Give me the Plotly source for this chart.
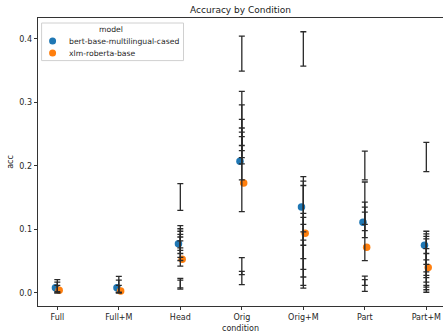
import plotly.graph_objects as go
import numpy as np

categories = ["Full", "Full+M", "Head", "Orig", "Orig+M", "Part", "Part+M"]
bert_acc = [0.008, 0.008, 0.0775, 0.207, 0.135, 0.111, 0.075]
xlmr_acc = [0.004, 0.003, 0.053, 0.173, 0.094, 0.072, 0.040]
model_names = ["bert-base-multilingual-cased", "xlm-roberta-base"]
model_colors = ["#1f77b4", "#ff7f0e"]

# error bar intervals (low, high) per condition
err_full = [(0.0, 0.021), (0.002, 0.017), (0.0, 0.012)]
err_fullm = [(0.0, 0.026), (0.001, 0.020), (0.0, 0.012)]
err_head = [(0.130, 0.172), (0.042, 0.106), (0.051, 0.101), (0.056, 0.097),
            (0.062, 0.092), (0.067, 0.088), (0.071, 0.082), (0.006, 0.023), (0.008, 0.020)]
err_orig = [(0.349, 0.404), (0.128, 0.317), (0.178, 0.296), (0.203, 0.273),
            (0.213, 0.2595), (0.224, 0.253), (0.232, 0.246), (0.013, 0.0555), (0.0287, 0.034)]
err_origm = [(0.357, 0.411), (0.0076, 0.183), (0.0118, 0.176), (0.025, 0.169),
             (0.037, 0.125), (0.054, 0.119), (0.075, 0.108), (0.083, 0.096)]
err_part = [(0.178, 0.223), (0.0507, 0.1745), (0.087, 0.143), (0.098, 0.135),
            (0.108, 0.127), (0.0024, 0.0265), (0.012, 0.021)]
err_partm = [(0.191, 0.237), (0.001, 0.097), (0.009, 0.093), (0.017, 0.089),
             (0.024, 0.085), (0.0276, 0.0696), (0.033, 0.062), (0.045, 0.052), (0.005, 0.012)]
error_intervals = [err_full, err_fullm, err_head, err_orig, err_origm, err_part, err_partm]

FONT = "DejaVu Sans"
FS = 8.0
LFS = 7.7
pos = np.arange(len(categories))
dodge = 0.03

fig = go.Figure()
for name, vals, col, off in zip(model_names, [bert_acc, xlmr_acc], model_colors, [-dodge, dodge]):
    fig.add_trace(go.Scatter(x=pos + off, y=vals, mode="markers", name=name,
                             marker=dict(color=col, size=7.5), showlegend=False))

for i, ints in enumerate(error_intervals):
    lows = np.array([a for a, b in ints])
    highs = np.array([b for a, b in ints])
    mids = (lows + highs) / 2
    half = (highs - lows) / 2
    fig.add_trace(go.Scatter(
        x=[pos[i]] * len(ints), y=mids, mode="markers",
        marker=dict(size=0.1, opacity=0),
        error_y=dict(type="data", array=half, symmetric=True,
                     color="#2a2a2a", thickness=1.3, width=3),
        showlegend=False, hoverinfo="skip"))

# pixel -> paper helpers for the compact matplotlib-style legend
L, R, T, B = 37.7, 443, 17.7, 305.7
def px(x):
    return (x - L) / (R - L)
def py(y):
    return (B - y) / (B - T)

shapes = [dict(type="rect", xref="paper", yref="paper",
               x0=px(41.3), x1=px(183.3), y0=py(60.3), y1=py(22.7),
               line=dict(color="#d0d0d0", width=1), fillcolor="rgba(255,255,255,0.8)",
               layer="above")]
annotations = [dict(text="model", xref="paper", yref="paper", x=px(111), y=py(29),
                    xanchor="center", yanchor="middle", showarrow=False,
                    font=dict(size=LFS, color="#262626"))]
for k, (name, col) in enumerate(zip(model_names, model_colors)):
    yc = 40.7 + 12 * k
    shapes.append(dict(type="circle", xref="paper", yref="paper",
                       xsizemode="pixel", ysizemode="pixel",
                       xanchor=px(52.3), yanchor=py(yc),
                       x0=-3.5, x1=3.5, y0=-3.5, y1=3.5,
                       fillcolor=col, line=dict(width=0), layer="above"))
    annotations.append(dict(text=name, xref="paper", yref="paper", x=px(66.5), y=py(yc),
                            xanchor="left", yanchor="middle", showarrow=False,
                            font=dict(size=LFS, color="#262626")))

fig.update_layout(
    width=443, height=336,
    margin=dict(l=L, r=0, t=T, b=336 - B, autoexpand=False),
    paper_bgcolor="white", plot_bgcolor="white",
    font=dict(family=FONT, size=FS, color="#262626"),
    showlegend=False,
    title=dict(text="Accuracy by Condition", x=0.5, xref="paper",
               y=1 - 10 / 336, yref="container", yanchor="middle", xanchor="center",
               font=dict(size=9.0, color="#1a1a1a")),
    xaxis=dict(range=[-0.314, 6.271], tickvals=list(pos), ticktext=categories,
               showgrid=False, zeroline=False, showline=True, mirror=True,
               linecolor="#333", linewidth=0.8, ticks="outside", ticklen=3.5,
               tickwidth=0.8, tickcolor="#333",
               title=dict(text="condition", standoff=4, font=dict(size=FS))),
    yaxis=dict(range=[-0.0206, 0.4326], tickvals=[0.0, 0.1, 0.2, 0.3, 0.4],
               ticktext=["0.0", "0.1", "0.2", "0.3", "0.4"],
               showgrid=False, zeroline=False, showline=True, mirror=False,
               linecolor="#333", linewidth=0.8, ticks="outside", ticklen=3.5,
               tickwidth=0.8, tickcolor="#333",
               title=dict(text="acc", standoff=4, font=dict(size=FS))),
    shapes=shapes,
    annotations=annotations,
)

fig.write_html("out.html", config={"displayModeBar": False},
               post_script="document.body.style.margin='0px';")
